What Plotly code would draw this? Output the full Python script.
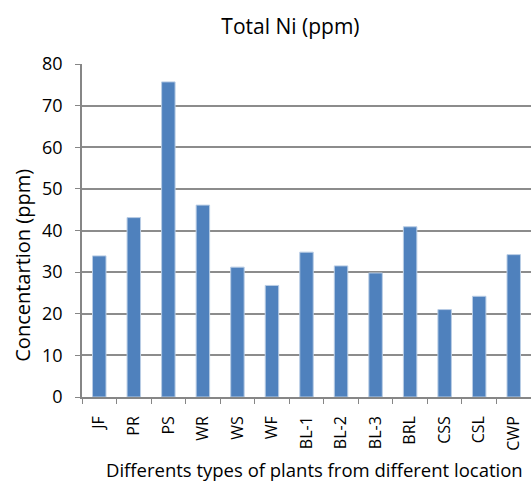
import plotly.graph_objects as go

categories = ["JF", "PR", "PS", "WR", "WS", "WF", "BL-1", "BL-2", "BL-3", "BRL", "CSS", "CSL", "CWP"]
values = [33.9, 43.1, 75.7, 46.1, 31.2, 26.8, 34.8, 31.5, 29.8, 40.9, 21.0, 24.2, 34.2]
y_ticks = [0, 10, 20, 30, 40, 50, 60, 70, 80]

font_family = "Open Sans, Liberation Sans, sans-serif"

fig = go.Figure(go.Bar(
    x=categories,
    y=values,
    marker=dict(color="#4F81BD", line=dict(color="#B9CDE5", width=1)),
    width=0.39,
))

fig.update_layout(
    width=531, height=483,
    margin=dict(l=82, r=0, t=64, b=86),
    paper_bgcolor="white", plot_bgcolor="white",
    showlegend=False,
    font=dict(family=font_family, color="black", size=17),
    title=dict(text="Total Ni (ppm)", x=0.547, xanchor="center", y=0.944, yanchor="middle",
               font=dict(size=21, family=font_family, color="black")),
    annotations=[
        dict(text="Concentartion (ppm)", xref="paper", yref="paper",
             x=-0.133, y=0.395, xanchor="center", yanchor="middle",
             textangle=-90, showarrow=False, font=dict(size=20)),
        dict(text="Differents types of plants from different location", xref="paper", yref="paper",
             x=0.517, y=-0.219, xanchor="center", yanchor="middle",
             showarrow=False, font=dict(size=18.5)),
    ],
)

fig.update_yaxes(
    range=[0, 80], tickvals=y_ticks, ticks="outside", ticklen=5, tickcolor="#868686",
    ticklabelstandoff=9,
    showgrid=True, gridcolor="#8C8C8C", gridwidth=1.5,
    showline=True, linecolor="#868686", linewidth=1.5,
    zeroline=False, automargin=False,
    tickfont=dict(size=18),
)

fig.update_xaxes(
    tickangle=-90, ticks="outside", ticklen=5, tickcolor="#868686", tickson="boundaries",
    ticklabelstandoff=11,
    showline=True, linecolor="#868686", linewidth=1.5,
    automargin=False,
    tickfont=dict(size=16),
)

fig.write_html("out.html", config={"displayModeBar": False},
               post_script="document.body.style.margin='0';document.body.style.overflow='hidden';")
